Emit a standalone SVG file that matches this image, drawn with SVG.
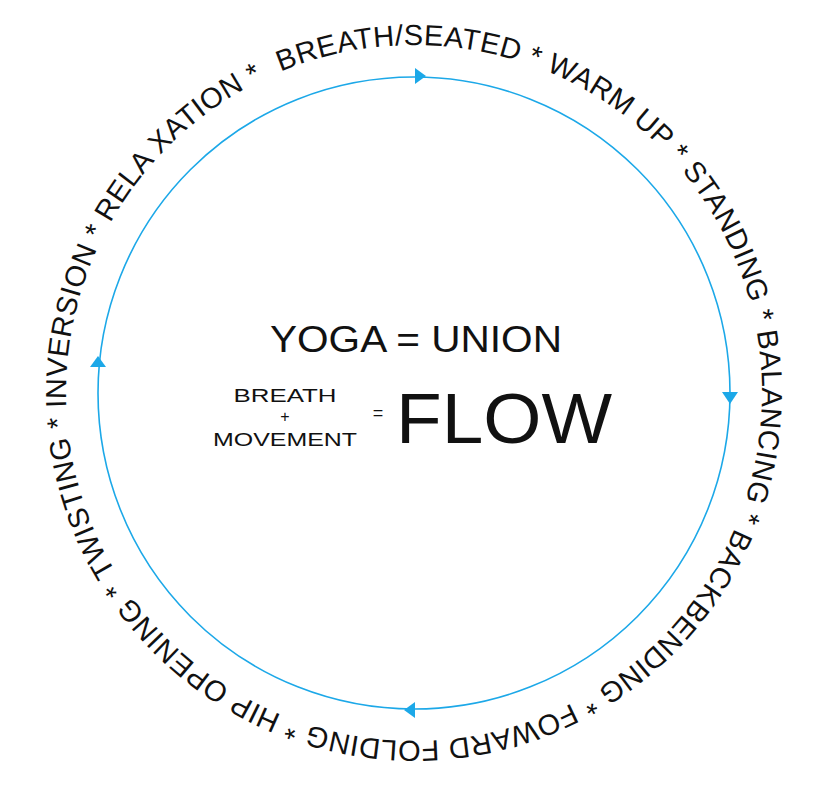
<svg xmlns="http://www.w3.org/2000/svg" width="830" height="788" viewBox="0 0 830 788">
<style>
text{font-family:"Liberation Sans",Arial,sans-serif;fill:#111;}
.ring{fill:none;stroke:#1ca8e8;stroke-width:1.6;}
.arr{fill:#1ca8e8;}
</style>
<defs>
<path id="tp" d="M 280.8 71.5 A 348 348 0 1 1 414 741 A 348 348 0 0 1 280.8 71.5"/>
</defs>
<rect width="830" height="788" fill="#fff"/>
<g id="connectors">
<circle class="ring" cx="414" cy="393" r="316"/>
<polygon class="arr" points="426,76 415,68 415,84"/>
<polygon class="arr" points="730,404 722,392 738,392"/>
<polygon class="arr" points="404,710 415,702 415,718"/>
<polygon class="arr" points="98,356 90,367 106,367"/>
</g>
<g id="ring-label">
<text font-size="29"><textPath href="#tp" textLength="2166" lengthAdjust="spacing">BREATH/SEATED * WARM UP * STANDING * BALANCING * BACKBENDING * FOWARD FOLDING * HIP OPENING * TWISTING * INVERSION * RELA XATION *</textPath></text>
</g>
<g id="center">
<text x="270" y="352" font-size="36" textLength="292" lengthAdjust="spacingAndGlyphs">YOGA = UNION</text>
<text x="285" y="402" font-size="18" text-anchor="middle" textLength="103" lengthAdjust="spacingAndGlyphs">BREATH</text>
<text x="285" y="422" font-size="16" text-anchor="middle">+</text>
<text x="285" y="446" font-size="18" text-anchor="middle" textLength="144" lengthAdjust="spacingAndGlyphs">MOVEMENT</text>
<text x="378" y="419" font-size="18" text-anchor="middle">=</text>
<text x="396" y="443" font-size="70" textLength="216" lengthAdjust="spacingAndGlyphs">FLOW</text>
</g>
</svg>
